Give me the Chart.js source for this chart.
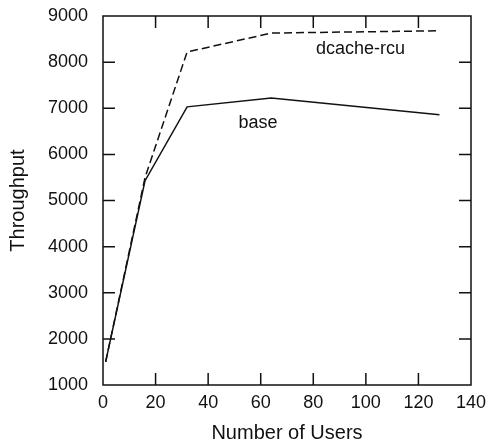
<!DOCTYPE html>
<html>
<head>
<meta charset="utf-8">
<script src="https://cdn.jsdelivr.net/npm/chart.js@4"></script>
<style>
    html, body { margin: 0; padding: 0; background: #fff; }
    #wrap { width: 489px; height: 445px; }
</style>
</head>
<body>
<div id="wrap"><canvas id="myLineChart" width="489" height="445"></canvas></div>
<script>
// values
const users = [1, 16, 32, 64, 128];
const baseThroughput = [1500, 5430, 7030, 7220, 6860];
const rcuThroughput = [1500, 5500, 8220, 8630, 8680];
const xTicks = [0, 20, 40, 60, 80, 100, 120, 140];
const yTicks = [1000, 2000, 3000, 4000, 5000, 6000, 7000, 8000, 9000];
const curveLabels = [
    { text: 'dcache-rcu', x: 98, y: 8290 },
    { text: 'base', x: 59, y: 6680 }
];

const ink = '#111';
const fontFamily = '"Liberation Sans", Arial, sans-serif';

// box round the plot with the tick marks pointing inwards, plus the curve names
const frame = {
    id: 'frame',
    afterDraw(chart) {
        const ctx = chart.ctx;
        const a = chart.chartArea;
        const xs = chart.scales.x;
        const ys = chart.scales.y;
        const len = 12;

        ctx.save();
        ctx.strokeStyle = ink;
        ctx.lineWidth = 1.5;
        ctx.strokeRect(a.left, a.top, a.right - a.left, a.bottom - a.top);

        ctx.beginPath();
        xTicks.slice(1, -1).forEach(v => {
            const px = xs.getPixelForValue(v);
            ctx.moveTo(px, a.bottom);
            ctx.lineTo(px, a.bottom - len);
            ctx.moveTo(px, a.top);
            ctx.lineTo(px, a.top + len);
        });
        yTicks.slice(1, -1).forEach(v => {
            const py = ys.getPixelForValue(v);
            ctx.moveTo(a.left, py);
            ctx.lineTo(a.left + len, py);
            ctx.moveTo(a.right, py);
            ctx.lineTo(a.right - len, py);
        });
        ctx.stroke();

        ctx.fillStyle = ink;
        ctx.font = '18px ' + fontFamily;
        ctx.textAlign = 'center';
        ctx.textBaseline = 'middle';
        curveLabels.forEach(l => {
            ctx.fillText(l.text, xs.getPixelForValue(l.x), ys.getPixelForValue(l.y));
        });
        ctx.restore();
    }
};

var ctx = document.getElementById('myLineChart').getContext('2d');

var myLineChart = new Chart(ctx, {
    type: 'line',
    data: {
        datasets: [{
            label: 'dcache-rcu',
            data: users.map((u, i) => ({ x: u, y: rcuThroughput[i] })),
            borderColor: ink,
            borderWidth: 1.5,
            borderDash: [8, 4],
            pointRadius: 0,
            fill: false,
            tension: 0
        },
        {
            label: 'base',
            data: users.map((u, i) => ({ x: u, y: baseThroughput[i] })),
            borderColor: ink,
            borderWidth: 1.5,
            pointRadius: 0,
            fill: false,
            tension: 0
        }]
    },
    options: {
        responsive: false,
        animation: false,
        layout: { padding: { left: 0, right: 18, top: 16, bottom: 0 } },
        plugins: {
            legend: { display: false },
            tooltip: { enabled: false }
        },
        scales: {
            x: {
                type: 'linear',
                min: 0,
                max: 140,
                afterBuildTicks: s => { s.ticks = xTicks.map(v => ({ value: v })); },
                afterFit: s => {
                    s.height = 60;
                    s.paddingLeft = 0;
                    s.paddingRight = 0;
                },
                grid: { display: false, drawTicks: false },
                border: { display: false },
                ticks: {
                    color: ink,
                    padding: 7,
                    maxRotation: 0,
                    callback: v => String(v),
                    font: { family: fontFamily, size: 18 }
                },
                title: {
                    display: true,
                    text: 'Number of Users',
                    color: ink,
                    padding: { top: 0, bottom: 0 },
                    font: { family: fontFamily, size: 20 }
                }
            },
            y: {
                type: 'linear',
                min: 1000,
                max: 9000,
                afterBuildTicks: s => { s.ticks = yTicks.map(v => ({ value: v })); },
                afterFit: s => {
                    s.width = 103;
                    s.paddingTop = 0;
                    s.paddingBottom = 0;
                },
                grid: { display: false, drawTicks: false },
                border: { display: false },
                ticks: {
                    color: ink,
                    padding: 15,
                    callback: v => String(v),
                    font: { family: fontFamily, size: 18 }
                },
                title: {
                    display: true,
                    text: 'Throughput',
                    color: ink,
                    padding: { top: 6, bottom: 0 },
                    font: { family: fontFamily, size: 20 }
                }
            }
        }
    },
    plugins: [frame]
});
</script>
</body>
</html>
